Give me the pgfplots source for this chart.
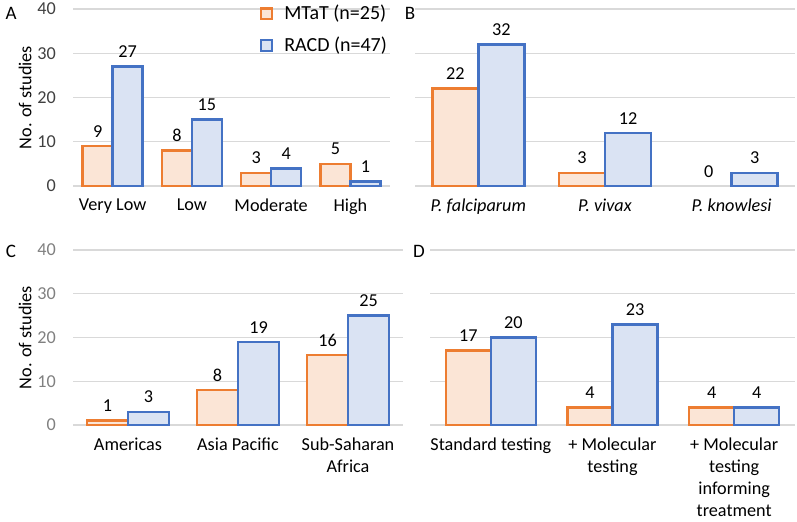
\documentclass[border=0pt]{standalone}
\usepackage{pgfplots}
\pgfplotsset{compat=1.18}
\usepackage{fontspec}
\setmainfont{Carlito}
\definecolor{orE}{HTML}{ED7D31}
\definecolor{orF}{HTML}{FBE5D6}
\definecolor{blE}{HTML}{4472C4}
\definecolor{blF}{HTML}{DAE3F3}
\definecolor{gridc}{HTML}{D9D9D9}
\newcommand\fs{\fontsize{9.1}{11}\selectfont}
\pgfplotsset{
  panel/.style={
    scale only axis,
    ymin=0, ymax=40, ytick={0,10,20,30,40},
    axis line style={draw=none},
    major tick length=0pt,
    ymajorgrids, major grid style={gridc, line width=0.6pt},
    font=\fs,
    /pgf/number format/assume math mode=true,
    xticklabel style={align=center, text=black, yshift=-3pt, font=\fs},
    yticklabel style={xshift=-5pt, font=\fs},
    clip=false,
    every node near coord/.append style={font=\fs, text=black, yshift=0.5pt},
    legend image code/.code={\draw[##1] (0pt,-2.7pt) rectangle (5.4pt,2.7pt);},
  },
  orbar/.style 2 args={ybar, draw=orE, fill=orF, line width=1.2pt, bar width=#1, bar shift=-#2,
     nodes near coords, every node near coord/.append style={xshift=-#2}},
  blbar/.style 2 args={ybar, draw=blE, fill=blF, line width=1.2pt, bar width=#1, bar shift=#2,
     nodes near coords, every node near coord/.append style={xshift=#2}},
}
\begin{document}
\begin{tikzpicture}
\path[use as bounding box] (0,0) rectangle (398.5pt,-260.5pt);
% Panel A
\begin{axis}[panel, at={(36.5pt,-93pt)}, anchor=south west,
  width=158.5pt, height=88.5pt,
  xmin=-0.5, xmax=3.5, xtick={0,1,2,3},
  xticklabels={Very Low, Low, Moderate, High},
  yticklabel style={text=black!75},
  ylabel={No. of studies},
  ylabel style={at={(axis description cs:-0.151,0.5)}, anchor=center, font=\fs},
  legend cell align=left,
  legend style={at={(axis description cs:0.57,1.07)}, anchor=north west, draw=none, fill=none,
    font=\fontsize{10}{12}\selectfont, row sep=3pt, column sep=3.5pt},
]
\addplot[orbar={15pt}{7.5pt}] coordinates {(0,9) (1,8) (2,3) (3,5)};
\addlegendentry{MTaT (n=25)}
\addplot[blbar={15pt}{7.5pt}] coordinates {(0,27) (1,15) (2,4) (3,1)};
\addlegendentry{RACD (n=47)}
\end{axis}
% Panel B
\begin{axis}[panel, at={(207.5pt,-93pt)}, anchor=south west,
  width=190pt, height=88.5pt,
  xmin=-0.5, xmax=2.5, xtick={0,1,2},
  xticklabels={\textit{P. falciparum}, \textit{P. vivax}, \textit{P. knowlesi}},
  yticklabels={},
]
\addplot[orbar={23pt}{11.5pt}] coordinates {(0,22) (1,3)};
\addplot[orbar={23pt}{11.5pt}, draw=none, fill=none] coordinates {(2,0)};
\addplot[blbar={23pt}{11.5pt}] coordinates {(0,32) (1,12) (2,3)};
\end{axis}
% Panel C
\begin{axis}[panel, at={(36.5pt,-212.5pt)}, anchor=south west,
  width=165pt, height=87.5pt,
  xmin=-0.5, xmax=2.5, xtick={0,1,2},
  xticklabels={Americas, Asia Pacific, Sub-Saharan\\Africa},
  yticklabel style={text=black!50},
  ylabel={No. of studies},
  ylabel style={at={(axis description cs:-0.145,0.5)}, anchor=center, font=\fs},
]
\addplot[orbar={20.5pt}{10.25pt}] coordinates {(0,1) (1,8) (2,16)};
\addplot[blbar={20.5pt}{10.25pt}] coordinates {(0,3) (1,19) (2,25)};
\end{axis}
% Panel D
\begin{axis}[panel, at={(215pt,-212.5pt)}, anchor=south west,
  width=182.5pt, height=87.5pt,
  xmin=-0.5, xmax=2.5, xtick={0,1,2},
  xticklabels={Standard testing, + Molecular\\testing, + Molecular\\testing\\informing\\treatment},
  yticklabels={},
]
\addplot[orbar={22.5pt}{11.25pt}] coordinates {(0,17) (1,4) (2,4)};
\addplot[blbar={22.5pt}{11.25pt}] coordinates {(0,20) (1,23) (2,4)};
\end{axis}
\node[font=\fontsize{9.5}{11}\selectfont] at (5.5pt,-6.5pt) {A};
\node[font=\fontsize{9.5}{11}\selectfont] at (205pt,-6.5pt) {B};
\node[font=\fontsize{9.5}{11}\selectfont] at (5.5pt,-125.5pt) {C};
\node[font=\fontsize{9.5}{11}\selectfont] at (209.5pt,-125.5pt) {D};
\end{tikzpicture}
\end{document}
